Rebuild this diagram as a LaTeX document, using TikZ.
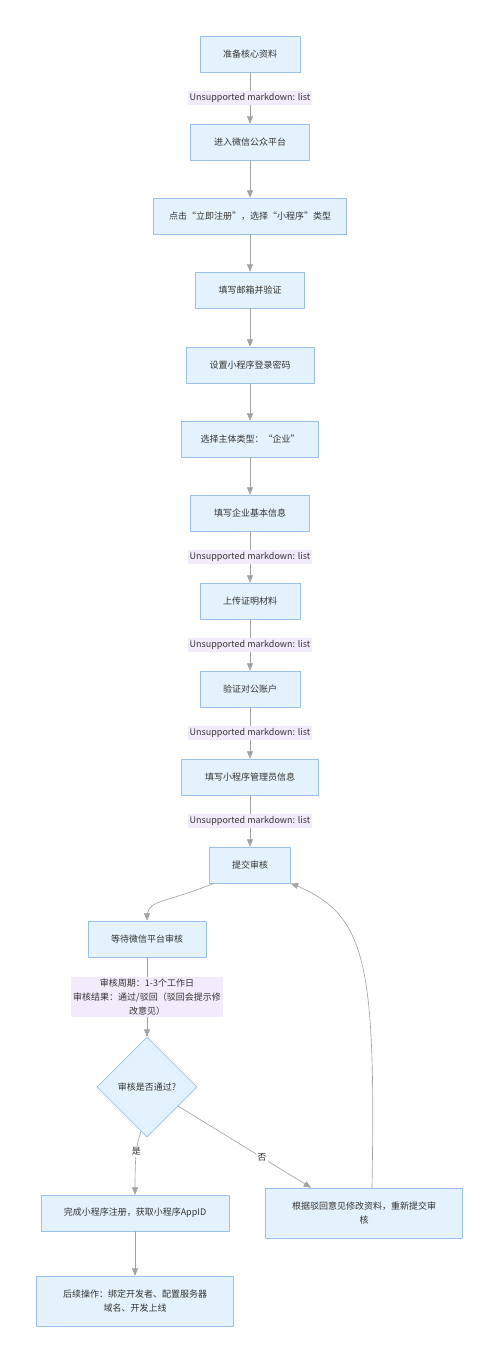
\documentclass[tikz,border=0pt]{standalone}
\usepackage{fontspec}
\setmainfont{Noto Sans CJK SC}
\usepackage{pgf,tikz}
\usetikzlibrary{arrows,shapes.geometric}
\definecolor{eeeeff}{rgb}{0.89,0.95,0.99}
\definecolor{aaccee}{rgb}{0.6,0.75,0.92}
\definecolor{eeddff}{rgb}{0.95,0.92,0.99}
\definecolor{aaaaaa}{rgb}{0.64,0.64,0.64}
\definecolor{uuuuuu}{rgb}{0.2,0.2,0.2}
\begin{document}
\begin{tikzpicture}[line cap=round,line join=round,>=triangle 45,x=1.0pt,y=-1.0pt,
  every node/.style={font=\fontsize{9}{14}\selectfont,text=uuuuuu},
  box/.style={draw=aaccee,fill=eeeeff,line width=0.7pt,minimum height=36pt,inner xsep=8pt,align=center},
  dia/.style={diamond,draw=aaccee,fill=eeeeff,line width=0.7pt,minimum width=100pt,minimum height=100pt,inner sep=0pt},
  lbl/.style={fill=eeddff,inner sep=2pt,align=center},
  yn/.style={fill=white,inner sep=1.5pt},
  flow/.style={color=aaaaaa,line width=0.65pt}]
      \useasboundingbox (0,0) rectangle (500,1363);
      \node[box,minimum width=100pt] (n1) at (250,54) {准备核心资料};
      \node[box,minimum width=119pt] (n2) at (250,142) {进入微信公众平台};
      \node[box,minimum width=193pt] (n3) at (250,216) {点击“立即注册”，选择“小程序”类型};
      \node[box,minimum width=109pt] (n4) at (250,290) {填写邮箱并验证};
      \node[box,minimum width=128pt] (n5) at (250,365) {设置小程序登录密码};
      \node[box,minimum width=137pt] (n6) at (250,439) {选择主体类型：“企业”};
      \node[box,minimum width=119pt] (n7) at (250,513) {填写企业基本信息};
      \node[box,minimum width=100pt] (n8) at (250,601) {上传证明材料};
      \node[box,minimum width=100pt] (n9) at (250,689) {验证对公账户};
      \node[box,minimum width=137pt] (n10) at (250,777) {填写小程序管理员信息};
      \node[box,minimum width=81pt] (n11) at (250,865) {提交审核};
      \node[box,minimum width=118pt] (n12) at (147,939) {等待微信平台审核};
      \node[dia] (q) at (147,1087) {审核是否通过?};
      \node[box,minimum width=188pt] (ok) at (135,1213) {完成小程序注册，获取小程序AppID};
      \node[box,minimum width=197pt,minimum height=50pt] (redo) at (364,1213) {根据驳回意见修改资料，重新提交审\\核};
      \node[box,minimum width=197pt,minimum height=50pt] (next) at (135,1301) {后续操作：绑定开发者、配置服务器\\域名、开发上线};
      % main chain
      \draw[->,flow] (n1) -- node[lbl] (l1) {Unsupported markdown: list} (n2);
      \draw[->,flow] (n2) -- (n3);
      \draw[->,flow] (n3) -- (n4);
      \draw[->,flow] (n4) -- (n5);
      \draw[->,flow] (n5) -- (n6);
      \draw[->,flow] (n6) -- (n7);
      \draw[->,flow] (n7) -- node[lbl] (l2) {Unsupported markdown: list} (n8);
      \draw[->,flow] (n8) -- node[lbl] (l3) {Unsupported markdown: list} (n9);
      \draw[->,flow] (n9) -- node[lbl] (l4) {Unsupported markdown: list} (n10);
      \draw[->,flow] (n10) -- node[lbl] (l5) {Unsupported markdown: list} (n11);
      % review
      \draw[->,flow] ([xshift=-36pt]n11.south) .. controls +(-55,22) and +(0,-22) .. (n12.north);
      \draw[->,flow] (n12) -- node[lbl,minimum width=151pt,minimum height=40pt] (l6) {审核周期：1-3个工作日\\审核结果：通过/驳回（驳回会提示修\\改意见）} (q);
      \draw[->,flow] ([shift={(-6,-6)}]q.south) .. controls +(-5,15) and +(0,-40) .. node[yn,pos=0.45] (yes) {是} (ok.north);
      \draw[->,flow] (q) -- node[yn,pos=0.63] (no) {否} ([xshift=-53pt]redo.north);
      \draw[->,flow] ([xshift=8pt]redo.north) .. controls +(4,-230) and +(75,30) .. (n11.south east);
      \draw[->,flow] (ok) -- (next);
\end{tikzpicture}
\end{document}
